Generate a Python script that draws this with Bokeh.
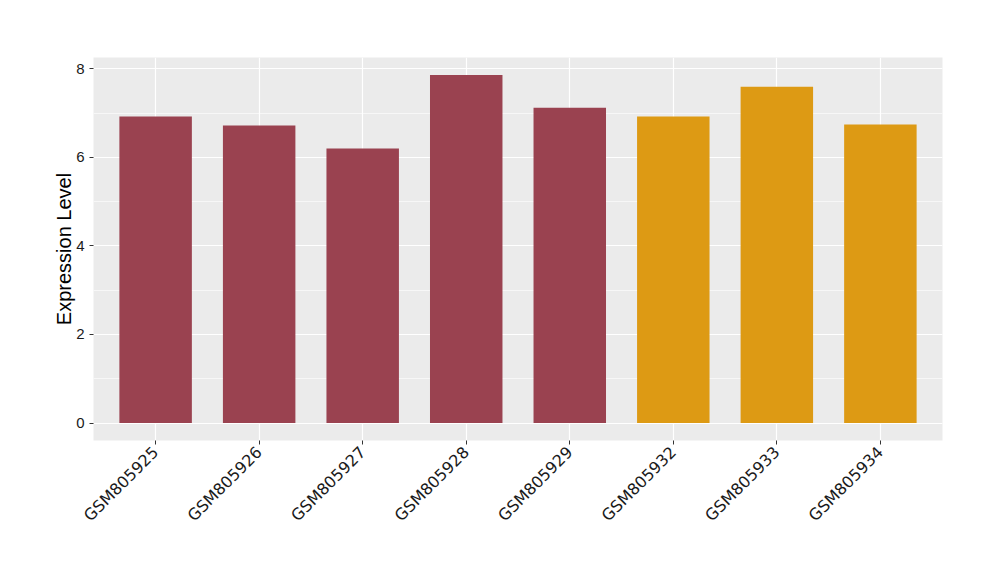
from bokeh.plotting import figure
from bokeh.models import ColumnDataSource, SingleIntervalTicker, FixedTicker, Range1d
from bokeh.embed import file_html
from bokeh.resources import INLINE
import math

samples = ["GSM805925", "GSM805926", "GSM805927", "GSM805928", "GSM805929",
           "GSM805932", "GSM805933", "GSM805934"]
expression = [6.92, 6.72, 6.20, 7.86, 7.12, 6.92, 7.59, 6.74]
groups = ["A", "A", "A", "A", "A", "B", "B", "B"]
group_colors = {"A": "#9A4250", "B": "#DD9A14"}

positions = list(range(1, len(samples) + 1))
src = ColumnDataSource(dict(x=positions, top=expression,
                            color=[group_colors[g] for g in groups]))

FONT = "Liberation Sans"
p = figure(width=992, height=572, output_backend="svg", toolbar_location=None,
           x_range=Range1d(0.4, len(samples) + 0.6),
           y_range=Range1d(-0.393, 8.253))
p.min_border_left = 93
p.min_border_right = 50
p.min_border_top = 57
p.min_border_bottom = 132
p.background_fill_color = "#EBEBEB"
p.border_fill_color = "white"
p.outline_line_color = None

p.vbar(x="x", top="top", bottom=0, width=0.7, color="color", line_color=None, source=src)

p.xaxis.ticker = FixedTicker(ticks=positions)
p.xaxis.major_label_overrides = {i: s for i, s in zip(positions, samples)}
p.yaxis.ticker = SingleIntervalTicker(interval=2, num_minor_ticks=2)
p.ygrid.grid_line_color = "white"
p.ygrid.grid_line_width = 1.2
p.ygrid.minor_grid_line_color = "white"
p.ygrid.minor_grid_line_width = 0.6
p.xgrid.grid_line_color = "white"
p.xgrid.grid_line_width = 1.2

for ax in (p.xaxis, p.yaxis):
    ax.axis_line_color = None
    ax.major_tick_line_color = "#333333"
    ax.major_tick_out = 4
    ax.major_tick_in = 0
    ax.minor_tick_line_color = None
    ax.major_label_text_color = "#1a1a1a"

p.yaxis.major_label_text_font = FONT
p.yaxis.major_label_text_font_size = "15px"
p.xaxis.major_label_text_font = "DejaVu Sans"
p.xaxis.major_label_text_font_size = "16px"
p.xaxis.major_label_orientation = math.pi / 4
p.yaxis.axis_label = "Expression Level"
p.yaxis.axis_label_text_font = FONT
p.yaxis.axis_label_text_font_style = "normal"
p.yaxis.axis_label_text_font_size = "20px"
p.yaxis.axis_label_text_color = "black"
p.yaxis.axis_label_standoff = -2

open("out.html", "w").write(file_html(p, INLINE))
